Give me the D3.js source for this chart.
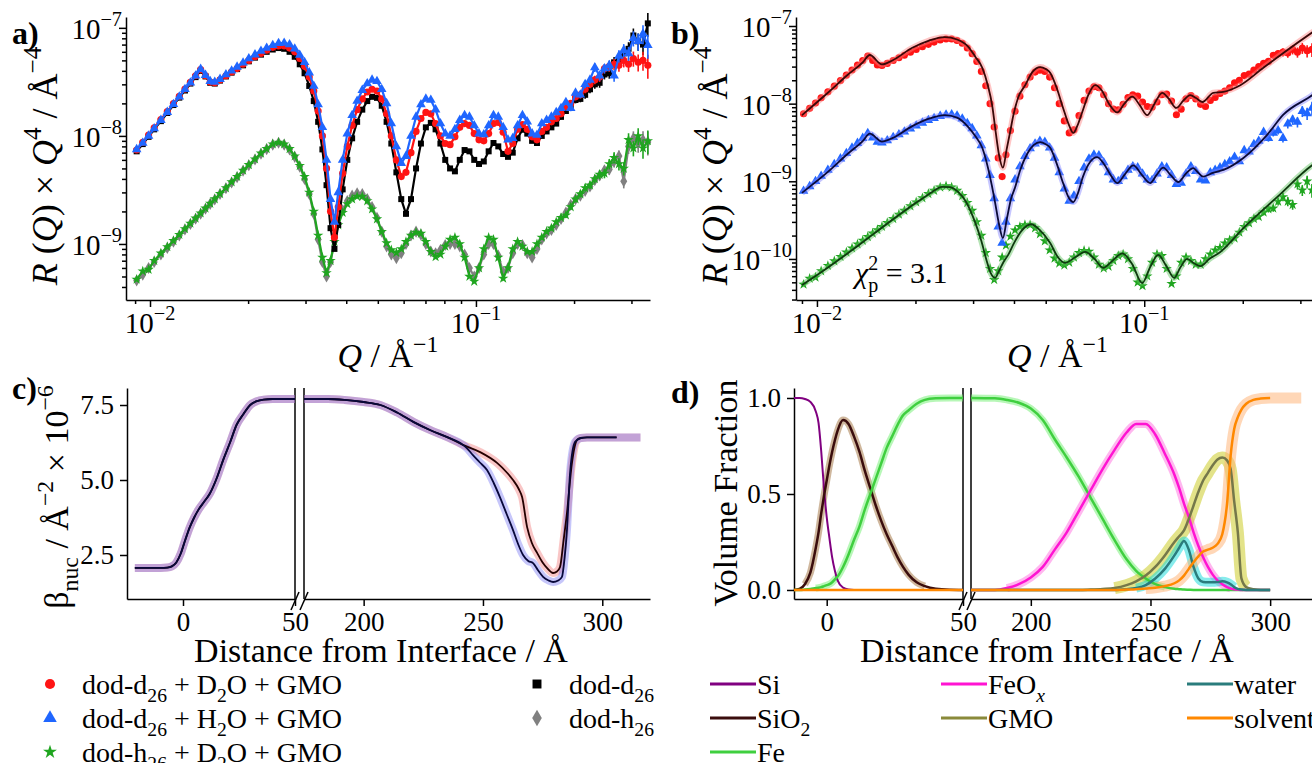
<!DOCTYPE html>
<html lang="en">
<head>
<meta charset="utf-8">
<title>Reflectivity, SLD and volume fraction profiles</title>
<script src="https://cdn.jsdelivr.net/npm/d3@7"></script>
<style>
  body { margin: 0; background: #fff; }
  svg, svg text { font-family: "Liberation Serif", "DejaVu Serif", serif; }
  svg { display: block; }
  text { white-space: pre; }
  .ax path, .ax line { stroke: #000; stroke-width: 1.5px; }
</style>
</head>
<body>
<script>
// ---------- panel a / b : R(Q)*Q^4 data, values in units of 1e-9 A^-4 ----------
const qA = [
  0.0091, 0.0095, 0.0099, 0.0103, 0.0108, 0.0113, 0.0118, 0.0123, 0.0128, 0.0133,
  0.0138, 0.0143, 0.0148, 0.0153, 0.0158, 0.0164, 0.0171, 0.0178, 0.0185, 0.0193,
  0.0201, 0.0210, 0.0219, 0.0228, 0.0238, 0.0248, 0.0258, 0.0268, 0.0278, 0.0288,
  0.0298, 0.0308, 0.0318, 0.0328, 0.0338, 0.0348, 0.0358, 0.0368, 0.0378, 0.0390,
  0.0403, 0.0417, 0.0432, 0.0448, 0.0464, 0.0480, 0.0497, 0.0514, 0.0532, 0.0550,
  0.0570, 0.0590, 0.0610, 0.0632, 0.0655, 0.0678, 0.0702, 0.0727, 0.0752, 0.0778,
  0.0805, 0.0833, 0.0862, 0.0892, 0.0923, 0.0955, 0.0988, 0.1022, 0.1057, 0.1094,
  0.1132, 0.1171, 0.1212, 0.1254, 0.1297, 0.1342, 0.1389, 0.1437, 0.1487, 0.1539,
  0.1592, 0.1647, 0.1704, 0.1763, 0.1824, 0.1888, 0.1953, 0.2021, 0.2091, 0.2163,
  0.2238, 0.2316, 0.2396, 0.2479, 0.2565, 0.2654, 0.2746, 0.2841, 0.2939, 0.3041,
  0.3146, 0.3255, 0.3368
];
// dod-d26 + D2O + GMO
const redA = [
  7.4, 8.7, 10.2, 11.9, 14.2, 16.8, 19.9, 23.3, 27.1, 31.3,
  36.0, 41.0, 36, 31.5, 31, 33, 36, 39, 42, 46,
  50, 54, 58, 62, 66, 68, 68, 65, 60, 52,
  44, 35, 26, 17, 10, 5.0, 2.0, 1.15, 2.2, 4.5,
  8.0, 12.5, 17.5, 22, 25.5, 27, 26, 22, 16, 10,
  6.0, 4.2, 4.6, 7.0, 11, 14.5, 16.5, 16, 13, 10,
  8.5, 8.3, 9.8, 12, 13, 12.5, 10.5, 9.2, 9.0, 10.5,
  13.0, 13.3, 10.8, 7.2, 8.5, 11.5, 12.7, 11.5, 9.8, 9.2,
  11, 12, 13.5, 14.5, 16, 18.5, 20, 23, 24, 27,
  30, 33, 35, 42, 44, 46, 45, 50, 46, 52,
  48, 50, 45
];
// dod-d26 + H2O + GMO
const blueA = [
  7.5, 8.6, 10.0, 11.7, 14.0, 16.6, 19.6, 23.0, 27.0, 31.0,
  36.0, 41.5, 36.5, 32, 31.5, 33.5, 37, 40, 43.5, 47.5,
  52, 56.5, 61, 65, 69, 72, 72.5, 70, 64, 56,
  48, 38.5, 29, 19.5, 12, 6.0, 2.6, 1.6, 3.0, 6.0,
  10.5, 15.5, 21, 26.5, 30.5, 33, 32, 27, 20, 13,
  8.0, 5.6, 6.5, 10, 15, 19.5, 22, 21.5, 17.5, 13,
  10.5, 10.0, 11.5, 14, 15.5, 15, 12.5, 10.5, 10.3, 12.5,
  15.5, 15, 12, 9.2, 9.5, 12.5, 15.5, 13.5, 10.5, 10.2,
  13, 14, 15, 16.5, 18, 20.5, 18, 25, 24, 30,
  33, 43, 36, 42, 45, 36, 55, 62, 58, 80,
  75, 88, 69
];
// dod-d26
const blackA = [
  7.2, 8.4, 9.8, 11.5, 13.7, 16.3, 19.3, 22.6, 26.3, 30.5,
  35, 40, 35.5, 31, 30.5, 32.5, 35.5, 38.5, 41.5, 45,
  49, 53, 56.5, 60, 63, 65, 64, 60, 54, 46,
  38, 29, 21, 13.5, 7.5, 3.5, 1.4, 0.9, 1.5, 3.2,
  6.0, 9.5, 13.5, 17.5, 21, 23, 22.5, 19, 13.5, 8.5,
  4.6, 2.6, 1.9, 2.6, 5.0, 8.5, 12, 13.2, 11.5, 8.5,
  6.0, 5.0, 4.7, 6.0, 7.4, 7.2, 6.0, 5.5, 5.8, 7.2,
  8.6, 8.0, 6.8, 6.4, 7.0, 9.5, 11.4, 10.5, 9.0, 8.6,
  10, 11, 12, 13, 15, 17, 19, 21.5, 22, 24,
  27, 30, 31, 37, 38, 48, 50, 58, 64, 85,
  75, 70, 110
];
// dod-h26 + D2O + GMO
const greenA = [
  0.47, 0.56, 0.58, 0.70, 0.82, 0.94, 1.07, 1.22, 1.38, 1.55,
  1.73, 1.93, 2.14, 2.37, 2.61, 2.92, 3.3, 3.75, 4.2, 4.8,
  5.4, 6.1, 6.9, 7.6, 8.4, 8.7, 8.4, 7.6, 6.5, 5.3,
  4.2, 3.0, 2.0, 1.2, 0.75, 0.54, 0.7, 1.05, 1.5, 1.95,
  2.35, 2.6, 2.75, 2.75, 2.5, 2.1, 1.7, 1.3, 1.02, 0.88,
  0.83, 0.9, 1.05, 1.2, 1.28, 1.25, 1.05, 0.85, 0.76, 0.8,
  0.95, 1.1, 1.15, 1.0, 0.75, 0.5, 0.45, 0.6, 0.9, 1.15,
  1.1, 0.75, 0.48, 0.6, 0.9, 1.05, 0.95, 0.85, 0.85, 1.0,
  1.15, 1.3, 1.4, 1.6, 1.75, 1.85, 2.2, 2.6, 2.9, 3.3,
  3.5, 4.0, 4.4, 4.5, 5.5, 6.3, 5.5, 5.0, 9.2, 7.7,
  10, 7.7, 9.0
];
// dod-h26
const grayA = [
  0.46, 0.52, 0.6, 0.68, 0.8, 0.92, 1.05, 1.2, 1.36, 1.53,
  1.71, 1.9, 2.12, 2.35, 2.58, 2.9, 3.28, 3.7, 4.15, 4.75,
  5.35, 6.05, 6.85, 7.55, 8.3, 8.65, 8.3, 7.5, 6.4, 5.2,
  4.0, 2.9, 1.9, 1.1, 0.68, 0.5, 0.68, 1.05, 1.55, 2.05,
  2.5, 2.8, 2.95, 2.9, 2.6, 2.2, 1.75, 1.3, 0.95, 0.8,
  0.74, 0.82, 1.0, 1.2, 1.3, 1.22, 1.0, 0.85, 0.82, 0.88,
  0.98, 1.0, 1.0, 0.95, 0.8, 0.6, 0.5, 0.6, 0.8, 1.0,
  1.0, 0.78, 0.55, 0.6, 0.82, 1.0, 0.98, 0.82, 0.75, 0.9,
  1.1, 1.25, 1.35, 1.5, 1.7, 1.95, 2.3, 2.6, 2.8, 3.1,
  3.4, 3.9, 4.3, 4.8, 4.9, 5.8, 6.5, 3.8, 8.0, 9.5,
  8.5, 9.2, 8.8
];
// relative error bars of the last points of qA
const errStart = 80;
const errTail = [0.04, 0.04, 0.05, 0.05, 0.05, 0.06, 0.06, 0.07, 0.07, 0.08, 0.08, 0.09,
  0.1, 0.1, 0.11, 0.12, 0.13, 0.14, 0.15, 0.16, 0.18, 0.2, 0.25];

// panel b fits (same units, before offset)
const fitRedQ = [0.0090, 0.0108, 0.0124, 0.0138, 0.0145, 0.0158, 0.0170, 0.0195, 0.0220, 0.0246,
  0.0268, 0.0290, 0.0305, 0.0320, 0.0333, 0.0343, 0.0352, 0.0360, 0.0370, 0.0380,
  0.0390, 0.0398, 0.0412, 0.0433, 0.0455, 0.0481, 0.0500, 0.0516, 0.0540, 0.0565,
  0.0590, 0.0607, 0.0625, 0.0646, 0.0675, 0.0708, 0.0740, 0.0780, 0.0827, 0.0870,
  0.0919, 0.0970, 0.1021, 0.1075, 0.1135, 0.1190, 0.1253, 0.1318, 0.1382, 0.1440,
  0.1505, 0.1625, 0.1744, 0.1966, 0.2312, 0.2661, 0.3265, 0.3420];
const fitRed = [7.1, 13.8, 23.4, 34, 42.3, 32, 36, 52, 65, 72,
  67, 54, 40, 29, 17, 9.6, 4.2, 2.2, 1.5, 2.6,
  4.5, 7.0, 12, 17.3, 25.5, 29.6, 28, 25, 16, 8.8,
  5.2, 4.2, 5.2, 7.7, 13, 17.3, 15, 10, 7.7, 10,
  12.3, 9.5, 7.1, 10, 13.8, 11.5, 8.8, 11, 12.9, 11.8,
  10.5, 13.8, 14.2, 17.3, 29, 45, 83, 95];
const fitBlueQ = [0.0090, 0.0108, 0.0124, 0.0138, 0.0145, 0.0158, 0.0170, 0.0195, 0.0220, 0.0246,
  0.0268, 0.0290, 0.0305, 0.0320, 0.0333, 0.0342, 0.0350, 0.0360, 0.0370, 0.0380,
  0.0392, 0.0403, 0.0418, 0.0440, 0.0460, 0.0481, 0.0500, 0.0516, 0.0540, 0.0565,
  0.0590, 0.0607, 0.0627, 0.0650, 0.0685, 0.0718, 0.0755, 0.0790, 0.0827, 0.0875,
  0.0926, 0.0985, 0.1043, 0.1090, 0.1143, 0.1205, 0.1271, 0.1340, 0.1412, 0.1460,
  0.1515, 0.1620, 0.1744, 0.2009, 0.2378, 0.2661, 0.3265, 0.3420];
const fitBlue = [7.1, 13.2, 22.5, 33, 41, 32.5, 36, 51, 64, 71,
  66, 50, 38, 27, 15, 9.0, 5.4, 2.8, 1.86, 3.2,
  6.0, 8.3, 14, 23, 29.5, 32, 30, 27, 17, 9.5,
  6.0, 5.4, 7.0, 11.5, 18, 20.5, 16.5, 12, 9.5, 12.5,
  16, 12, 9.5, 12, 15, 12, 9.8, 12.5, 14.8, 13,
  11.5, 12.8, 14, 20, 40, 72, 129, 150];
const fitGreenQ = [0.0090, 0.0110, 0.0130, 0.0150, 0.0170, 0.0190, 0.0210, 0.0225, 0.0241, 0.0255,
  0.0270, 0.0285, 0.0304, 0.0318, 0.0330, 0.0340, 0.0350, 0.0360, 0.0372, 0.0384,
  0.0400, 0.0420, 0.0451, 0.0480, 0.0516, 0.0545, 0.0573, 0.0615, 0.0660, 0.0705,
  0.0749, 0.0800, 0.0857, 0.0920, 0.0986, 0.1045, 0.1104, 0.1170, 0.1235, 0.1290,
  0.1353, 0.1420, 0.1484, 0.1580, 0.1708, 0.2009, 0.2551, 0.3265, 0.3420];
const fitGreen = [0.46, 0.82, 1.36, 2.15, 3.2, 4.5, 6.0, 7.3, 8.5, 8.4,
  7.3, 5.5, 3.0, 1.7, 0.95, 0.65, 0.57, 0.7, 0.92, 1.13,
  1.6, 2.25, 2.8, 2.35, 1.6, 1.05, 0.89, 1.05, 1.23, 1.0,
  0.77, 0.95, 1.18, 0.85, 0.49, 0.8, 1.13, 0.8, 0.57, 0.78,
  1.0, 0.88, 0.81, 1.0, 1.23, 2.5, 6.3, 16.2, 18.5];
const offsetB = { red: 1, blue: 0.1, green: 0.1 };

// ---------- panel c : SLD profiles (1e-6 A^-2) ----------
const cZL = [-21.5, -15, -10, -7, -5, -3, -1, 1, 3, 5, 7, 9.5, 12, 15, 18, 21, 24, 27, 30, 33, 36, 40, 45, 50];
const cSldL = [2.07, 2.07, 2.07, 2.08, 2.12, 2.25, 2.55, 3.0, 3.42, 3.75, 4.02, 4.28, 4.55, 5.05, 5.68, 6.25, 6.85, 7.2, 7.5, 7.63, 7.68, 7.7, 7.7, 7.7];
const cZRed = [175, 185, 192, 200, 207, 214, 221, 228, 235, 241.6, 248.8, 255.9, 260, 262.6, 265, 266.4, 268.5, 270.5, 272.7, 275,
  276.8, 279.4, 281, 282.3, 283.8, 285.2, 287.3, 289.4, 291, 293.6, 300, 306, 316];
const cSldRed = [7.7, 7.7, 7.67, 7.6, 7.5, 7.25, 6.93, 6.66, 6.43, 6.17, 5.93, 5.57, 5.25, 5.0, 4.7, 4.43, 3.43, 2.9, 2.57, 2.25,
  2.07, 1.9, 1.95, 2.1, 3.0, 3.9, 5.57, 6.33, 6.4, 6.42, 6.42, 6.42, 6.42];
const cZBlue = [175, 185, 192, 200, 207, 214, 221, 228, 235, 241.6, 243, 245.8, 248.5, 251.7, 254.5, 257.1, 260, 262.6, 264.8, 266.8,
  269, 271, 273, 275.2, 277.5, 279.4, 281.5, 283.1, 284.2, 285.2, 286.5, 288.6, 291, 293.6, 300, 306, 316];
const cSldBlue = [7.7, 7.7, 7.67, 7.6, 7.5, 7.25, 6.93, 6.66, 6.43, 6.17, 6.08, 5.83, 5.6, 5.33, 4.9, 4.43, 3.85, 3.33, 2.85, 2.5,
  2.3, 2.23, 2.0, 1.77, 1.65, 1.6, 1.65, 1.77, 2.4, 3.33, 5.23, 6.27, 6.4, 6.42, 6.42, 6.42, 6.42];
const cLineEnd = 306;

// ---------- panel d : volume fractions ----------
const dZL = [-12, -10, -8, -6, -4, -3, -2, -1, 0, 1, 2, 3, 4, 6, 8, 10, 12, 14, 16, 18, 20, 22, 24, 26, 28, 30, 33, 36, 40, 45, 50];
const dSi = [1.0, 1.0, 0.995, 0.98, 0.93, 0.87, 0.72, 0.53, 0.38, 0.27, 0.17, 0.1, 0.05, 0.012, 0.002, 0,
  0, 0, 0, 0, 0, 0, 0, 0, 0, 0, 0, 0, 0, 0, 0];
const dSiO2 = [0, 0.005, 0.03, 0.09, 0.22, 0.3, 0.4, 0.49, 0.57, 0.65, 0.72, 0.78, 0.83, 0.885, 0.865, 0.8,
  0.72, 0.62, 0.53, 0.44, 0.36, 0.29, 0.23, 0.17, 0.12, 0.08, 0.04, 0.02, 0.006, 0.001, 0];
const dFeL = [0, 0, 0.002, 0.005, 0.01, 0.012, 0.015, 0.02, 0.025, 0.03, 0.04, 0.055, 0.07, 0.12, 0.185, 0.26,
  0.33, 0.42, 0.5, 0.58, 0.66, 0.74, 0.8, 0.86, 0.91, 0.935, 0.97, 0.99, 0.998, 1.0, 1.0];
const dZFlatL = [-12, 50];
const dSolventL = [0, 0];
const dZR = [175, 185, 190, 195, 200, 205, 210, 215, 220, 225, 230, 235, 240, 244, 248, 252, 256, 260, 262, 264,
  266, 268, 270, 272, 274, 276, 278, 280, 282, 283.5, 285, 286.5, 288, 290, 293, 296, 300, 306, 313];
const dFeR = [1.0, 0.998, 0.99, 0.975, 0.945, 0.885, 0.785, 0.69, 0.59, 0.48, 0.37, 0.26, 0.16, 0.1, 0.06, 0.03, 0.015, 0.006, 0.004, 0.002,
  0.001, 0, 0, 0, 0, 0, 0, 0, 0, 0, 0, 0, 0, 0, 0, 0, 0, 0, 0];
const dFeOx = [0, 0, 0.01, 0.03, 0.065, 0.12, 0.21, 0.3, 0.41, 0.52, 0.63, 0.73, 0.82, 0.865, 0.865, 0.81, 0.71, 0.6, 0.53, 0.45,
  0.38, 0.3, 0.23, 0.17, 0.12, 0.08, 0.05, 0.03, 0.015, 0.008, 0.004, 0.002, 0, 0, 0, 0, 0, 0, 0];
const dGMO = [0, 0, 0, 0, 0, 0, 0, 0, 0, 0.002, 0.005, 0.01, 0.025, 0.045, 0.075, 0.12, 0.18, 0.25, 0.28, 0.31,
  0.37, 0.44, 0.51, 0.57, 0.61, 0.65, 0.68, 0.69, 0.675, 0.63, 0.46, 0.3, 0.06, 0.015, 0.004, 0, 0, 0, 0];
const dWater = [0, 0, 0, 0, 0, 0, 0, 0, 0, 0, 0, 0, 0.004, 0.01, 0.025, 0.06, 0.11, 0.18, 0.22, 0.255,
  0.21, 0.12, 0.06, 0.042, 0.04, 0.04, 0.042, 0.045, 0.04, 0.03, 0.015, 0.006, 0.002, 0, 0, 0, 0, 0, 0];
const dSolventR = [0, 0, 0, 0, 0, 0, 0, 0, 0, 0, 0, 0, 0.002, 0.004, 0.008, 0.012, 0.02, 0.035, 0.05, 0.075,
  0.11, 0.145, 0.175, 0.2, 0.21, 0.22, 0.24, 0.29, 0.45, 0.7, 0.84, 0.9, 0.94, 0.97, 0.99, 0.997, 1.0, 1.0, 1.0];
const dLineEnd = 300;

// ---------- setup ----------
const W = 1312, H = 763;
const svg = d3.select("body").append("svg").attr("width", W).attr("height", H).attr("viewBox", [0, 0, W, H]);
const FONT = '"Liberation Serif", "DejaVu Serif", serif';
const TICK = 27, LOGTICK = 29, LAB = 34, LEG = 28;

// text with italic / super / subscript parts
function rich(t, parts, size) {
  let shift = 0;
  parts.forEach(p => {
    const s = p[0], m = p[1] || "";
    let target = 0;
    if (m.includes("^")) target = -0.45 * size;
    if (m.includes("_")) target = 0.28 * size;
    const ts = t.append("tspan").text(s).attr("dy", target - shift);
    shift = target;
    if (target !== 0) ts.attr("font-size", size * 0.7);
    if (m.includes("i")) ts.attr("font-style", "italic");
  });
  return t;
}
function label(x, y, parts, size, o = {}) {
  const t = svg.append("text").attr("x", x).attr("y", y).attr("font-size", size)
    .attr("font-family", FONT).attr("text-anchor", o.anchor || "start");
  if (o.rotate) t.attr("transform", `rotate(-90,${x},${y})`);
  if (o.bold) t.attr("font-weight", "bold");
  return rich(t, parts, size);
}
function styleAxis(g) {
  g.attr("class", "ax").attr("font-family", FONT).attr("font-size", TICK);
}

// scales
const xA = d3.scaleLog().domain([0.00844, 0.342]).range([126, 650]);
const yA = d3.scaleLog().domain([0.303, 126]).range([300, 17]);
const xB = d3.scaleLog().domain([0.00863, 0.342]).range([796, 1319]);
const yB = d3.scaleLog().domain([0.0296, 130.6]).range([300, 17]);
const xCL = d3.scaleLinear().domain([-25, 50]).range([127, 295]);
const xCR = d3.scaleLinear().domain([175, 320]).range([304, 650]);
const yC = d3.scaleLinear().domain([1.033, 8.067]).range([599, 388]);
const xDL = d3.scaleLinear().domain([-12, 50]).range([794, 963]);
const xDR = d3.scaleLinear().domain([175, 320]).range([971, 1318]);
const yD = d3.scaleLinear().domain([-0.047, 1.052]).range([599, 388]);

const defs = svg.append("defs");
[["clipA", xA, yA], ["clipB", xB, yB]].forEach(([id, xs, ys]) => {
  defs.append("clipPath").attr("id", id).append("rect")
    .attr("x", xs.range()[0]).attr("y", ys.range()[1] - 8)
    .attr("width", xs.range()[1] - xs.range()[0] + 4).attr("height", ys.range()[0] - ys.range()[1] + 8);
});

// ---------- log axes (a, b) ----------
function logAxes(xs, ys, unitExp, yMajor) {
  const y0 = ys.range()[0], x0 = xs.range()[0];
  const xMajor = [0.01, 0.1];
  const isPow = v => Math.abs(Math.log10(v) - Math.round(Math.log10(v))) < 1e-6;
  svg.append("g").attr("transform", `translate(0,${y0})`)
    .call(d3.axisBottom(xs).tickValues(xMajor).tickSize(7).tickSizeOuter(0).tickFormat(""))
    .call(styleAxis);
  svg.append("g").attr("transform", `translate(0,${y0})`)
    .call(d3.axisBottom(xs).tickValues(xs.ticks().filter(v => !isPow(v))).tickSize(4).tickFormat(""))
    .call(styleAxis).call(g => g.select(".domain").remove());
  svg.append("g").attr("transform", `translate(${x0},0)`)
    .call(d3.axisLeft(ys).tickValues(yMajor).tickSize(7).tickSizeOuter(0).tickFormat(""))
    .call(styleAxis);
  svg.append("g").attr("transform", `translate(${x0},0)`)
    .call(d3.axisLeft(ys).tickValues(ys.ticks().filter(v => !isPow(v))).tickSize(4).tickFormat(""))
    .call(styleAxis).call(g => g.select(".domain").remove());
  xMajor.forEach(v => {
    const e = Math.round(Math.log10(v));
    label(xs(v), y0 + 33, [["10"], ["\u2212" + Math.abs(e), "^"]], LOGTICK, { anchor: "middle" });
  });
  yMajor.forEach(v => {
    const e = Math.round(Math.log10(v)) + unitExp;
    label(x0 - 4, ys(v) + 11, [["10"], ["\u2212" + Math.abs(e), "^"]], LOGTICK, { anchor: "end" });
  });
  const xm = (xs.range()[0] + xs.range()[1]) / 2;
  label(xm, 367, [["Q", "i"], [" / \u00c5"], ["\u22121", "^"]], LAB, { anchor: "middle" });
  label(x0 - 69, 166, [["R", "i"], [" ("], ["Q", "i"], [") \u00d7 "], ["Q", "i"], ["4", "^"], [" / \u00c5"], ["\u22124", "^"]],
    36, { anchor: "middle", rotate: true });
}
logAxes(xA, yA, -9, [1, 10, 100]);
logAxes(xB, yB, -9, [0.1, 1, 10, 100]);

// ---------- panel a ----------
const seriesA = [
  { v: grayA, color: "#808080", sym: d3.symbolDiamond, size: 42 },
  { v: greenA, color: "#1fa51f", sym: d3.symbolStar, size: 34 },
  { v: blackA, color: "#000000", sym: d3.symbolSquare, size: 36 },
  { v: redA, color: "#ff1414", sym: d3.symbolCircle, size: 40 },
  { v: blueA, color: "#1f66ff", sym: d3.symbolTriangle, size: 40 }
];
function points(vals, off) {
  return qA.map((q, i) => ({ q, v: vals[i] * off, e: i >= errStart ? errTail[i - errStart] : 0 }));
}
function drawData(g, xs, ys, s, pts, withLine) {
  g.append("g").selectAll("line").data(pts.filter(d => d.e > 0)).join("line")
    .attr("x1", d => xs(d.q)).attr("x2", d => xs(d.q))
    .attr("y1", d => ys(d.v * (1 + d.e))).attr("y2", d => ys(d.v * (1 - d.e)))
    .attr("stroke", s.color).attr("stroke-width", 1.6);
  if (withLine) {
    g.append("path").datum(pts).attr("d", d3.line().x(d => xs(d.q)).y(d => ys(d.v)))
      .attr("fill", "none").attr("stroke", s.color).attr("stroke-width", 2.2);
  }
  g.append("g").selectAll("path").data(pts).join("path")
    .attr("transform", d => `translate(${xs(d.q)},${ys(d.v)})`)
    .attr("d", d3.symbol().type(s.sym).size(s.size)).attr("fill", s.color);
}
const gA = svg.append("g").attr("clip-path", "url(#clipA)");
seriesA.forEach(s => drawData(gA, xA, yA, s, points(s.v, 1), true));

// ---------- panel b ----------
const gB = svg.append("g").attr("clip-path", "url(#clipB)");
const seriesB = [
  { v: greenA, off: offsetB.green, color: "#1fa51f", sym: d3.symbolStar, size: 34, fq: fitGreenQ, f: fitGreen, fc: "#0f3a0f", band: "#5cc05c" },
  { v: blueA, off: offsetB.blue, color: "#1f66ff", sym: d3.symbolTriangle, size: 40, fq: fitBlueQ, f: fitBlue, fc: "#0a0a38", band: "#8080ff" },
  { v: redA, off: offsetB.red, color: "#ff1414", sym: d3.symbolCircle, size: 40, fq: fitRedQ, f: fitRed, fc: "#3a0808", band: "#ff8080" }
];
const fitLine = d3.line().x(d => xB(d.q)).y(d => yB(d.v)).curve(d3.curveMonotoneX);
seriesB.forEach(s => drawData(gB, xB, yB, s, points(s.v, s.off), false));
seriesB.forEach(s => {
  const pts = s.fq.map((q, i) => ({ q, v: s.f[i] * s.off }));
  gB.append("path").datum(pts).attr("d", fitLine).attr("fill", "none")
    .attr("stroke", s.band).attr("stroke-opacity", 0.45).attr("stroke-width", 6);
  gB.append("path").datum(pts).attr("d", fitLine).attr("fill", "none")
    .attr("stroke", s.fc).attr("stroke-width", 1.8);
});
const chi = svg.append("text").attr("x", 855).attr("y", 283).attr("font-size", 30).attr("font-family", FONT);
chi.append("tspan").attr("font-style", "italic").text("\u03c7");
chi.append("tspan").attr("font-size", 20).attr("dy", -13).text("2");
chi.append("tspan").attr("font-size", 20).attr("dx", -10).attr("dy", 22).text("p");
chi.append("tspan").attr("dy", -9).text(" = 3.1");

// ---------- broken linear axes (c, d) ----------
function brokenAxes(xl, xr, ys, yTicks, xlTicks, xrTicks) {
  const y0 = ys.range()[0], y1 = ys.range()[1];
  svg.append("g").attr("transform", `translate(0,${y0})`)
    .call(d3.axisBottom(xl).tickValues(xlTicks).tickSize(7).tickSizeOuter(0).tickPadding(6).tickFormat(d3.format("d")))
    .call(styleAxis);
  svg.append("g").attr("transform", `translate(0,${y0})`)
    .call(d3.axisBottom(xr).tickValues(xrTicks).tickSize(7).tickSizeOuter(0).tickPadding(6).tickFormat(d3.format("d")))
    .call(styleAxis);
  svg.append("g").attr("transform", `translate(${xl.range()[0]},0)`)
    .call(d3.axisLeft(ys).tickValues(yTicks).tickSize(7).tickSizeOuter(0).tickPadding(6).tickFormat(d3.format(".1f")))
    .call(styleAxis);
  [xl.range()[1], xr.range()[0]].forEach(x => {
    svg.append("line").attr("x1", x).attr("x2", x).attr("y1", y1).attr("y2", y0)
      .attr("stroke", "#000").attr("stroke-width", 1.5);
    svg.append("line").attr("x1", x - 4).attr("x2", x + 4).attr("y1", y0 + 11).attr("y2", y0 - 7)
      .attr("stroke", "#000").attr("stroke-width", 1.5);
  });
}
brokenAxes(xCL, xCR, yC, [2.5, 5.0, 7.5], [0, 50], [200, 250, 300]);
brokenAxes(xDL, xDR, yD, [0.0, 0.5, 1.0], [0, 50], [200, 250, 300]);
label(381, 662, [["Distance from Interface / \u00c5"]], LAB, { anchor: "middle" });
label(1047, 662, [["Distance from Interface / \u00c5"]], LAB, { anchor: "middle" });
label(68, 497, [["\u03b2"], ["nuc", "_"], [" / \u00c5"], ["\u22122", "^"], [" \u00d7 10"], ["\u22126", "^"]], LAB, { anchor: "middle", rotate: true });
label(737, 493, [["Volume Fraction"]], LAB, { anchor: "middle", rotate: true });

// ---------- panel c ----------
const zipC = (zs, vs) => zs.map((z, i) => ({ z, v: vs[i] }));
const profC = [
  { left: zipC(cZL, cSldL), right: zipC(cZRed, cSldRed), band: "#f06868", line: "#240000" },
  { left: zipC(cZL, cSldL), right: zipC(cZBlue, cSldBlue), band: "#6a6af2", line: "#08083a" }
];
profC.forEach(p => {
  [[p.left, xCL], [p.right, xCR]].forEach(([pts, xs]) => {
    svg.append("path").datum(pts).attr("d", d3.line().x(d => xs(d.z)).y(d => yC(d.v)).curve(d3.curveMonotoneX))
      .attr("fill", "none").attr("stroke", p.band).attr("stroke-opacity", 0.38).attr("stroke-width", 8);
  });
});
profC.forEach(p => {
  [[p.left, xCL], [p.right, xCR]].forEach(([pts, xs]) => {
    svg.append("path").datum(pts.filter(d => d.z <= cLineEnd))
      .attr("d", d3.line().x(d => xs(d.z)).y(d => yC(d.v)).curve(d3.curveMonotoneX))
      .attr("fill", "none").attr("stroke", p.line).attr("stroke-width", 1.8);
  });
});

// ---------- panel d ----------
const compD = [
  { name: "Si", left: zipC(dZL, dSi), right: null, line: "#800080", band: null, bw: 0, lw: 2 },
  { name: "SiO2", left: zipC(dZL, dSiO2), right: null, line: "#3a0d0d", band: "#a0703c", bw: 7, lw: 2.5 },
  { name: "Fe", left: zipC(dZL, dFeL), right: zipC(dZR, dFeR), line: "#3fcf3f", band: "#70f070", bw: 7, lw: 2.5 },
  { name: "FeOx", left: null, right: zipC(dZR, dFeOx), line: "#ff14d2", band: "#ff70e0", bw: 8, lw: 2.5 },
  { name: "GMO", left: null, right: zipC(dZR, dGMO), line: "#75784a", band: "#c8c814", bw: 12, lw: 2.5 },
  { name: "water", left: null, right: zipC(dZR, dWater), line: "#2a7c7c", band: "#10dada", bw: 9, lw: 2.5 },
  { name: "solvent", left: zipC(dZFlatL, dSolventL), right: zipC(dZR, dSolventR), line: "#ff8800", band: "#ffb070", bw: 11, lw: 2.5 }
];
const segD = c => [[c.left, xDL], [c.right, xDR]].filter(s => s[0]);
compD.forEach(c => {
  if (!c.band) return;
  segD(c).forEach(([pts, xs]) => {
    svg.append("path").datum(pts)
      .attr("d", d3.line().defined(d => d.v > 0.006).x(d => xs(d.z)).y(d => yD(d.v)).curve(d3.curveMonotoneX))
      .attr("fill", "none").attr("stroke", c.band).attr("stroke-opacity", 0.5).attr("stroke-width", c.bw);
  });
});
compD.forEach(c => {
  segD(c).forEach(([pts, xs]) => {
    svg.append("path").datum(pts.filter(d => d.z <= dLineEnd))
      .attr("d", d3.line().x(d => xs(d.z)).y(d => yD(d.v)).curve(d3.curveMonotoneX))
      .attr("fill", "none").attr("stroke", c.line).attr("stroke-width", c.lw);
  });
});

// ---------- panel labels ----------
label(12, 44, [["a)"]], 32, { bold: true });
label(671, 44, [["b)"]], 32, { bold: true });
label(12, 399, [["c)"]], 32, { bold: true });
label(671, 403, [["d)"]], 32, { bold: true });

// ---------- legends ----------
const legA = [
  { col: 0, row: 0, color: "#ff1414", sym: d3.symbolCircle, text: [["dod-d"], ["26", "_"], [" + D"], ["2", "_"], ["O + GMO"]] },
  { col: 0, row: 1, color: "#1f66ff", sym: d3.symbolTriangle, text: [["dod-d"], ["26", "_"], [" + H"], ["2", "_"], ["O + GMO"]] },
  { col: 0, row: 2, color: "#1fa51f", sym: d3.symbolStar, text: [["dod-h"], ["26", "_"], [" + D"], ["2", "_"], ["O + GMO"]] },
  { col: 1, row: 0, color: "#000000", sym: d3.symbolSquare, text: [["dod-d"], ["26", "_"]] },
  { col: 1, row: 1, color: "#808080", sym: d3.symbolDiamond, text: [["dod-h"], ["26", "_"]] }
];
const legRows = [684, 718, 752];
const legAcols = [50, 537];
legA.forEach(d => {
  const x = legAcols[d.col], y = legRows[d.row];
  svg.append("path").attr("transform", `translate(${x},${y})`)
    .attr("d", d3.symbol().type(d.sym).size(d.sym === d3.symbolStar ? 60 : 80)).attr("fill", d.color);
  label(x + 32, y + 10, d.text, LEG);
});
const legD = [
  { col: 0, row: 0, c: "#800080", text: [["Si"]] },
  { col: 0, row: 1, c: "#3a0d0d", text: [["SiO"], ["2", "_"]] },
  { col: 0, row: 2, c: "#3fcf3f", text: [["Fe"]] },
  { col: 1, row: 0, c: "#ff14d2", text: [["FeO"], ["x", "_i"]] },
  { col: 1, row: 1, c: "#8a8a3a", text: [["GMO"]] },
  { col: 2, row: 0, c: "#2a7c7c", text: [["water"]] },
  { col: 2, row: 1, c: "#ff8800", text: [["solvent"]] }
];
const legDcols = [710, 941, 1187];
legD.forEach(d => {
  const x = legDcols[d.col], y = legRows[d.row];
  svg.append("line").attr("x1", x).attr("x2", x + 46).attr("y1", y).attr("y2", y)
    .attr("stroke", d.c).attr("stroke-width", 3);
  label(x + 47, y + 10, d.text, LEG);
});
</script>
</body>
</html>
